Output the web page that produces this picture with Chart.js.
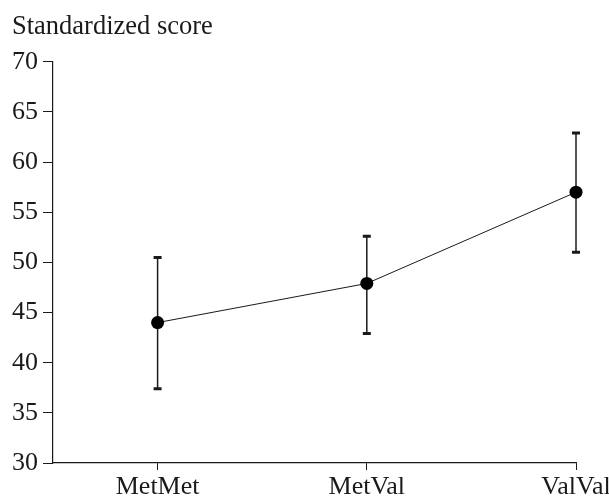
<!DOCTYPE html>
<html>
<head>
<meta charset="utf-8">
<script src="https://cdn.jsdelivr.net/npm/chart.js@4/dist/chart.umd.min.js"></script>
<style>
html,body{margin:0;padding:0;background:#fff;}
#wrap{width:609px;height:499px;}
</style>
</head>
<body>
<div id="wrap"><canvas id="c" width="609" height="499"></canvas></div>
<script>
const categories = ['MetMet', 'MetVal', 'ValVal'];
const means = [44.0, 47.9, 57.0];
const lowerBounds = [37.4, 42.9, 51.0];
const upperBounds = [50.5, 52.6, 62.9];
const yTicks = [30, 35, 40, 45, 50, 55, 60, 65, 70];

const FAMILY = '"Liberation Serif", "Times New Roman", serif';
const INK = '#1a1a1a';

const errorBars = {
  id: 'errorBars',
  beforeDatasetsDraw(chart) {
    const ctx = chart.ctx;
    const xs = chart.scales.x, ys = chart.scales.y;
    ctx.save();
    ctx.strokeStyle = INK;
    for (let i = 0; i < means.length; i++) {
      const x = xs.getPixelForValue(i + 1);
      const yl = ys.getPixelForValue(lowerBounds[i]);
      const yu = ys.getPixelForValue(upperBounds[i]);
      ctx.lineWidth = 1.5;
      ctx.beginPath();
      ctx.moveTo(x, yl); ctx.lineTo(x, yu);
      ctx.stroke();
      ctx.lineWidth = 3;
      ctx.beginPath();
      ctx.moveTo(x - 4, yl); ctx.lineTo(x + 4, yl);
      ctx.moveTo(x - 4, yu); ctx.lineTo(x + 4, yu);
      ctx.stroke();
    }
    ctx.restore();
  }
};

new Chart(document.getElementById('c'), {
  type: 'line',
  data: {
    datasets: [{
      data: means.map((v, i) => ({x: i + 1, y: v})),
      borderColor: INK,
      borderWidth: 1,
      backgroundColor: '#000',
      pointBackgroundColor: '#000',
      pointBorderColor: '#000',
      pointRadius: 6.5,
      pointBorderWidth: 0,
      tension: 0,
      clip: false
    }]
  },
  options: {
    responsive: false,
    animation: false,
    devicePixelRatio: 1,
    layout: {padding: {top: 11, left: 12, right: 33, bottom: 0}},
    plugins: {
      legend: {display: false},
      tooltip: {enabled: false},
      title: {
        display: true,
        text: 'Standardized score',
        align: 'start',
        color: INK,
        font: {family: FAMILY, size: 26.5, weight: 'normal', lineHeight: 1.2},
        padding: {top: 0, bottom: 19}
      }
    },
    scales: {
      x: {
        type: 'linear',
        min: 0.5,
        max: 3,
        afterBuildTicks(scale) { scale.ticks = categories.map((c, i) => ({value: i + 1})); },
        afterFit(scale) { scale.paddingLeft = 0; scale.paddingRight = 0; scale.height = 36; },
        ticks: {
          callback: (v) => categories[Math.round(v) - 1] || '',
          color: INK,
          font: {family: FAMILY, size: 26, weight: 'normal', lineHeight: 1.2},
          padding: 2,
          maxRotation: 0,
          autoSkip: false
        },
        grid: {display: true, drawOnChartArea: false, drawTicks: true, tickLength: 7, color: INK, lineWidth: 1},
        border: {display: true, color: INK, width: 1.2}
      },
      y: {
        min: 30,
        max: 70,
        afterBuildTicks(scale) { scale.ticks = yTicks.map(v => ({value: v})); },
        afterFit(scale) { scale.width = 41; scale.paddingTop = 0; scale.paddingBottom = 0; },
        ticks: {color: INK, font: {family: FAMILY, size: 26, weight: 'normal'}, padding: 5},
        grid: {display: true, drawOnChartArea: false, drawTicks: true, tickLength: 10, color: INK, lineWidth: 1},
        border: {display: true, color: INK, width: 1.2}
      }
    }
  },
  plugins: [errorBars]
});
</script>
</body>
</html>
